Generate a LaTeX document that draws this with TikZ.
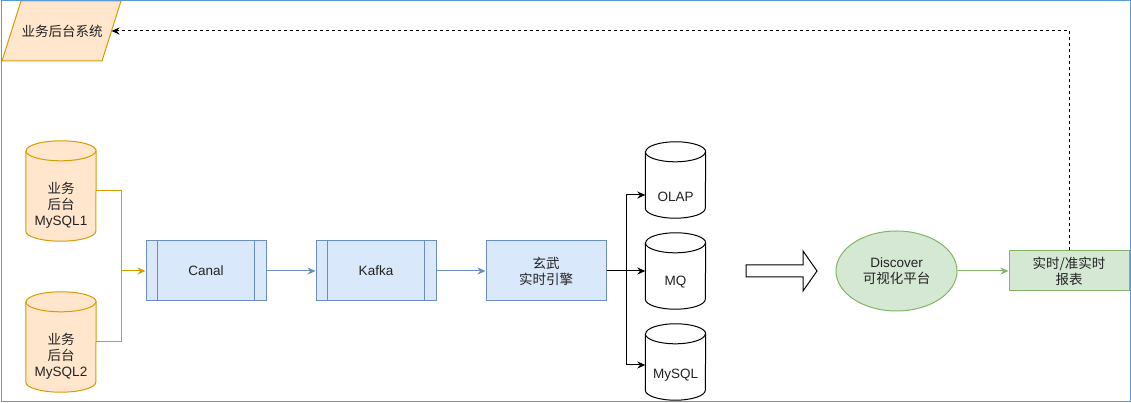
\documentclass[tikz,border=0pt]{standalone}
\usepackage{fontspec}
\setmainfont{Liberation Sans}
\newfontfamily\cjk{Noto Sans CJK SC}
\usetikzlibrary{arrows.meta,shapes.geometric}
\definecolor{ofill}{HTML}{FFE6CC}
\definecolor{ostroke}{HTML}{D79B00}
\definecolor{bfill}{HTML}{DAE8FC}
\definecolor{bstroke}{HTML}{6C8EBF}
\definecolor{gfill}{HTML}{D5E8D4}
\definecolor{gstroke}{HTML}{82B366}
\definecolor{framec}{HTML}{5B9BD5}
\definecolor{txtc}{HTML}{222222}
\newcommand{\mycyl}[4]{% name, x radius, stroke, fill
  \path[draw=#3,fill=#4,line width=1pt]
    ([yshift=-10pt]#1.north west) -- ([yshift=10pt]#1.south west)
    arc[start angle=180,end angle=360,x radius=#2,y radius=10pt]
    -- ([yshift=-10pt]#1.north east)
    arc[start angle=0,end angle=180,x radius=#2,y radius=10pt] -- cycle;
  \draw[#3,line width=1pt] ([yshift=-10pt]#1.north west)
    arc[start angle=180,end angle=360,x radius=#2,y radius=10pt];
}
\begin{document}
\begin{tikzpicture}[x=1pt,y=1pt,
  font=\fontsize{13.5}{16}\selectfont, text=txtc,
  every node/.style={inner sep=0pt, align=center},
  tip/.style={-{Stealth[length=8pt,width=7pt]}},
  cylbox/.style={draw=none, minimum width=#1},
  procbox/.style={draw=bstroke, fill=bfill, line width=1pt, minimum width=120pt, minimum height=60pt},
  conn/.style={line width=1pt}]
\useasboundingbox (0,0) rectangle (1131,403);

% business system parallelogram
\draw[ostroke, fill=ofill, line width=1pt] (21,402)--(121,402)--(102,342)--(2,342)--cycle;
\node (sys) at (62,372) {\cjk 业务后台系统};
\coordinate (sysE) at (111.5,372);

% source databases
\node[cylbox=70pt, minimum height=100pt] (db1) at (61,212) {};
\mycyl{db1}{35pt}{ostroke}{ofill}
\node (db1t) at ([yshift=-14pt]db1.center) {{\cjk 业务}\\{\cjk 后台}\\MySQL1};
\node[cylbox=70pt, minimum height=100pt] (db2) at (61,61) {};
\mycyl{db2}{35pt}{ostroke}{ofill}
\node (db2t) at ([yshift=-14pt]db2.center) {{\cjk 业务}\\{\cjk 后台}\\MySQL2};

% pipeline
\node[procbox] (canal) at (206,132) {Canal};
\draw[bstroke,line width=1pt] ([xshift=12pt]canal.north west) -- ([xshift=12pt]canal.south west)
  ([xshift=-12pt]canal.north east) -- ([xshift=-12pt]canal.south east);
\node[procbox] (kafka) at (376,132) {Kafka};
\draw[bstroke,line width=1pt] ([xshift=12pt]kafka.north west) -- ([xshift=12pt]kafka.south west)
  ([xshift=-12pt]kafka.north east) -- ([xshift=-12pt]kafka.south east);
\node[procbox] (eng) at (546,132) {{\cjk 玄武}\\{\cjk 实时引擎}};

\coordinate (oj) at (121,132);
\draw[ostroke,conn] (db1.east) -| (oj);
\draw[ostroke,conn] (db2.east) -| (oj);
\draw[ostroke,conn,tip] (oj) -- (canal.west);
\draw[bstroke,conn,tip] (canal.east) -- (kafka.west);
\draw[bstroke,conn,tip] (kafka.east) -- (eng.west);

% sink databases
\node[cylbox=60pt, minimum height=76pt] (olap) at (675.5,223) {};
\mycyl{olap}{30pt}{black}{white}
\node (olapt) at (675.5,206) {OLAP};
\node[cylbox=60pt, minimum height=76pt] (mq) at (675.5,132) {};
\mycyl{mq}{30pt}{black}{white}
\node (mqt) at (675.5,121) {MQ};
\node[cylbox=60pt, minimum height=76pt] (mysql) at (675.5,41) {};
\mycyl{mysql}{30pt}{black}{white}
\node (mysqlt) at (675.5,28) {MySQL};

\coordinate (br) at (626,132);
\draw[conn] (eng.east) -- (br);
\draw[conn,tip] (br) |- ([yshift=-15pt]olap.west);
\draw[conn,tip] (br) -- (mq.west);
\draw[conn,tip] (br) |- ([yshift=-3pt]mysql.west);

% hollow arrow
\draw[line width=1pt, fill=white] (746,138) -- (803,138) -- (803,152) -- (817,132)
  -- (803,112) -- (803,126) -- (746,126) -- cycle;

% discover
\node[draw=gstroke, fill=gfill, line width=1pt, ellipse, minimum width=121pt, minimum height=80pt] (disc) at (896.5,132) {};
\node (disct) at (896.5,132) {Discover\\{\cjk 可视化平台}};
\node[draw=gstroke, fill=gfill, line width=1pt, minimum width=120pt, minimum height=40pt] (rep) at (1069,132) {{\cjk 实时/准实时}\\{\cjk 报表}};
\draw[gstroke,conn,tip] (disc.east) -- (rep.west);

% feedback dashed
\draw[conn, dash pattern=on 3pt off 3pt, tip] (rep.north) |- (sysE);

% frame
\draw[framec, line width=1pt] (1,1) rectangle (1130,402);
\end{tikzpicture}
\end{document}
